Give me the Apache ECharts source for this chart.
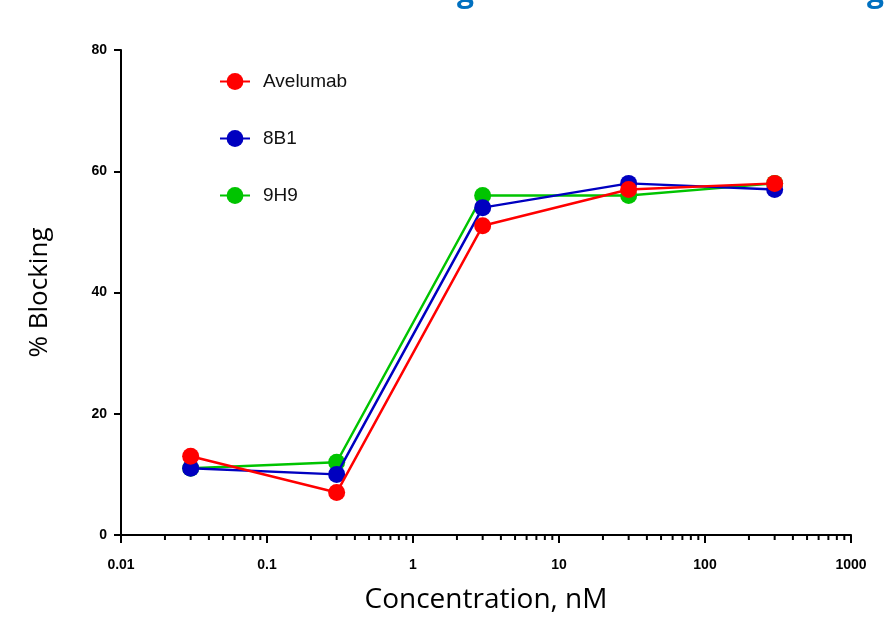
<!DOCTYPE html>
<html><head><meta charset="utf-8">
<script src="https://cdn.jsdelivr.net/npm/echarts@6/dist/echarts.min.js"></script>
<style>html,body{margin:0;padding:0;background:#fff}#c{width:887px;height:618px}</style>
</head><body><div id="c"></div>
<script>
const concentrations = [0.03, 0.3, 3, 30, 300];
const avelumab = [13, 7, 51, 57, 58];
const b8B1 = [11, 10, 54, 58, 57];
const h9H9 = [11, 12, 56, 56, 58];
const seriesNames = ['Avelumab', '8B1', '9H9'];
const yTicks = [0, 20, 40, 60, 80];
const minorTickValues = [];
[0.01, 0.1, 1, 10, 100].forEach(d => { for (let k = 2; k <= 9; k++) minorTickValues.push(+(d * k).toPrecision(3)); });

const chart = echarts.init(document.getElementById('c'), null, {renderer: 'canvas'});
const lbl = {color: '#000', fontWeight: 'bold', fontSize: 14, fontFamily: 'Liberation Sans, Arial'};
function mk(name, vals, color, z) {
  return {
    name: name, type: 'line', z: z,
    data: concentrations.map((c, i) => [c, vals[i]]),
    symbol: 'circle', symbolSize: 17,
    lineStyle: {color: color, width: 2.5},
    itemStyle: {color: color},
    emphasis: {disabled: true}, animation: false
  };
}
chart.setOption({
  animation: false,
  grid: {left: 121, right: 36, top: 50, bottom: 83, containLabel: false, outerBoundsMode: 'none'},
  graphic: [
    {type: 'text', left: 457, top: -22, style: {text: 'g', fill: '#0070C0', font: 'bold 30px "Open Sans"'}},
    {type: 'text', left: 867, top: -22, style: {text: 'g', fill: '#0070C0', font: 'bold 30px "Open Sans"'}}
  ],
  legend: {
    data: seriesNames, orient: 'vertical', left: 214, top: 67, itemGap: 38,
    itemWidth: 30, itemHeight: 21,
    textStyle: {fontSize: 19, color: '#111', fontFamily: 'Liberation Sans, Arial', padding: [0, 0, 0, 8]}
  },
  xAxis: {
    type: 'log', logBase: 10, min: 0.01, max: 1000,
    name: 'Concentration, nM', nameLocation: 'middle', nameGap: 51,
    nameTextStyle: {fontSize: 28, color: '#000', fontFamily: '"Open Sans"'},
    axisLine: {lineStyle: {color: '#000', width: 2}},
    axisTick: {length: 8, lineStyle: {color: '#000', width: 2}},
    axisLabel: Object.assign({margin: 23, formatter: v => String(v)}, lbl),
    splitLine: {show: false}
  },
  yAxis: {
    type: 'value', min: 0, max: 80, interval: 20,
    name: '% Blocking', nameLocation: 'middle', nameGap: 68,
    nameTextStyle: {fontSize: 26, color: '#000', fontFamily: '"Open Sans"'},
    axisLine: {show: true, lineStyle: {color: '#000', width: 2}},
    axisTick: {show: true, length: 7, lineStyle: {color: '#000', width: 2}},
    axisLabel: Object.assign({margin: 14, formatter: v => yTicks.includes(v) ? String(v) : ''}, lbl),
    splitLine: {show: false}
  },
  series: [
    mk(seriesNames[0], avelumab, '#FF0000', 5),
    mk(seriesNames[1], b8B1, '#0000C0', 4),
    mk(seriesNames[2], h9H9, '#00C400', 3),
    {
      type: 'custom', name: 'minor', silent: true, clip: false, z: 1,
      data: minorTickValues.map(v => [v, 0]),
      renderItem: function (params, api) {
        const p = api.coord([api.value(0), 0]);
        return {type: 'line', shape: {x1: p[0], y1: p[1], x2: p[0], y2: p[1] + 5}, style: {stroke: '#000', lineWidth: 2}};
      }
    }
  ]
});
</script></body></html>
